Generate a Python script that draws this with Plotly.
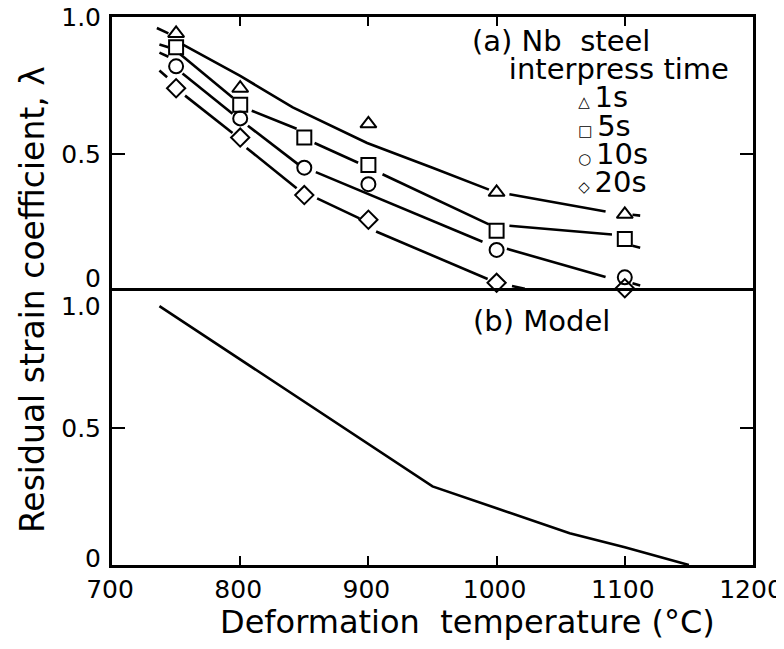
import plotly.graph_objects as go

# ---- data ----
temps_1s = [750, 800, 900, 1000, 1100]
lam_1s = [0.94, 0.74, 0.61, 0.36, 0.28]
temps_obs = [750, 800, 850, 900, 1000, 1100]
lam_5s = [0.89, 0.68, 0.56, 0.46, 0.22, 0.19]
lam_10s = [0.82, 0.63, 0.45, 0.39, 0.15, 0.05]
lam_20s = [0.74, 0.56, 0.35, 0.26, 0.03, 0.01]

# fitted curves (broken around the markers, as drawn in the reference)
fit_1s_x = [735, 744, None, 755, 800, 841, 899, 950, 994, None, 1010, 1085, None, 1106, 1112]
fit_1s_y = [0.96, 0.94, None, 0.90, 0.785, 0.67, 0.54, 0.45, 0.37, None, 0.353, 0.29, None, 0.278, 0.275]
fit_5s_x = [737, 744, None, 753, 794, None, 809, 844, None, 858, 892, None, 911, 994, None, 1010, 1090, None, 1106, 1112]
fit_5s_y = [0.90, 0.89, None, 0.865, 0.706, None, 0.658, 0.592, None, 0.54, 0.468, None, 0.426, 0.243, None, 0.238, 0.206, None, 0.165, 0.158]
fit_10s_x = [737, 744, None, 755, 794, None, 806, 845, None, 859, 900, 989, None, 1008, 1085, None, 1106, 1112]
fit_10s_y = [0.87, 0.855, None, 0.794, 0.647, None, 0.603, 0.463, None, 0.434, 0.353, 0.18, None, 0.154, 0.051, None, 0.028, 0.02]
fit_20s_x = [737, 743, None, 757, 794, None, 805, 844, None, 860, 893, None, 906, 993, None, 1012, 1022]
fit_20s_y = [0.805, 0.78, None, 0.713, 0.577, None, 0.522, 0.375, None, 0.338, 0.265, None, 0.217, 0.044, None, 0.018, 0.008]

# model (b)
model_x = [737, 950, 1000, 1057, 1100, 1150]
model_y = [0.945, 0.287, 0.207, 0.116, 0.065, 0.0]

x_ticks = [700, 800, 900, 1000, 1100, 1200]
series_names = ["1s", "5s", "10s", "20s"]
legend_glyphs = ["△", "□", "○", "◇"]

FONT = "DejaVu Sans"
fig = go.Figure()

fits = [(fit_1s_x, fit_1s_y), (fit_5s_x, fit_5s_y), (fit_10s_x, fit_10s_y), (fit_20s_x, fit_20s_y)]
for fx, fy in fits:
    fig.add_trace(go.Scatter(x=fx, y=fy, mode="lines", xaxis="x2", yaxis="y2",
                             line=dict(color="black", width=2.6), showlegend=False,
                             connectgaps=False, hoverinfo="skip"))

obs = [(temps_1s, lam_1s, "triangle-up-open"), (temps_obs, lam_5s, "square-open"),
       (temps_obs, lam_10s, "circle-open"), (temps_obs, lam_20s, "diamond-open")]
for (tx, ty, sym), name in zip(obs, series_names):
    fig.add_trace(go.Scatter(x=tx, y=ty, mode="markers", name=name, xaxis="x2", yaxis="y2",
                             marker=dict(symbol=sym, size=14, color="black",
                                         line=dict(color="black", width=2)),
                             cliponaxis=False, showlegend=False))

fig.add_trace(go.Scatter(x=model_x, y=model_y, mode="lines", xaxis="x", yaxis="y",
                         line=dict(color="black", width=2.6), showlegend=False))

TICKFONT = dict(family=FONT, size=25, color="black")
axis_common = dict(showgrid=False, zeroline=False, showline=True, linecolor="black",
                   linewidth=3, ticks="inside", tickcolor="black", automargin=False,
                   tickwidth=2, tickfont=TICKFONT)

# page body has an 8px margin, so the figure is sized to fit the 784x649 window
fig.update_layout(
    width=776, height=641,
    margin=dict(l=104, r=31, t=9, b=84),
    paper_bgcolor="white", plot_bgcolor="white",
    font=dict(family=FONT, color="black"),
    xaxis=dict(domain=[0, 1], anchor="y", range=[700, 1200], tickvals=x_ticks,
               ticklen=9, ticklabelstandoff=0, ticklabelshift=-2,
               ticklabeloverflow="allow", mirror=True, **axis_common),
    xaxis2=dict(domain=[0, 1], anchor="y2", range=[700, 1200], matches="x",
                tickvals=x_ticks, side="top", showticklabels=False, ticklen=9,
                mirror=False, **axis_common),
    yaxis=dict(domain=[0, 0.5], anchor="x", range=[0, 1], tickvals=[0.5],
               ticktext=["0.5"], ticklen=13, ticklabelstandoff=3,
               mirror="ticks", **axis_common),
    yaxis2=dict(domain=[0.5, 1], anchor="x2", range=[0, 1], tickvals=[0.5, 1.0],
                ticktext=["0.5", "1.0"], ticklen=13, ticklabelstandoff=3,
                ticklabeloverflow="allow", mirror="ticks", **axis_common),
    showlegend=False,
)

# tick labels near the panel boundaries (offset in the reference so they do not collide)
fig.add_annotation(text="0", xref="paper", yref="y2", x=0, y=0.046, xanchor="right",
                   yanchor="middle", xshift=-9, showarrow=False, font=TICKFONT)
fig.add_annotation(text="1.0", xref="paper", yref="y", x=0, y=0.945, xanchor="right",
                   yanchor="middle", xshift=-9, showarrow=False, font=TICKFONT)
fig.add_annotation(text="0", xref="paper", yref="y", x=0, y=0.025, xanchor="right",
                   yanchor="middle", xshift=-9, showarrow=False, font=TICKFONT)

# panel (a) label and key: one text block, lines spaced like the reference
NB = "\u00a0"
big = "<span style='font-size:29px'>{}</span>"
sym = "<span style='font-size:15px'>{}</span>"
lines = [big.format("(a) Nb  steel"),
         big.format(NB * 4 + "interpress time")]
for g, name in zip(legend_glyphs, series_names):
    lines.append(big.format(NB * 11) + sym.format(NB + g + NB) + big.format(name))
fig.add_annotation(text="<br>".join(lines), xref="x2", yref="y2", x=979, y=0.655,
                   xanchor="left", yanchor="middle", align="left", showarrow=False,
                   font=dict(family=FONT, size=21.7, color="black"))

fig.add_annotation(text="(b) Model", xref="x", yref="y", x=980, y=0.89,
                   xanchor="left", yanchor="middle", showarrow=False,
                   font=dict(family=FONT, size=29, color="black"))
fig.add_annotation(text="Deformation  temperature (°C)", xref="paper", yref="paper",
                   x=0.555, y=0, yshift=-57, xanchor="center", yanchor="middle",
                   showarrow=False, font=dict(family=FONT, size=32, color="black"))
fig.add_annotation(text="Residual strain coefficient, λ", xref="paper", yref="paper",
                   x=-0.125, y=0.485, xanchor="center", yanchor="middle", textangle=-90,
                   showarrow=False, font=dict(family=FONT, size=33, color="black"))

fig.write_html("out.html")
